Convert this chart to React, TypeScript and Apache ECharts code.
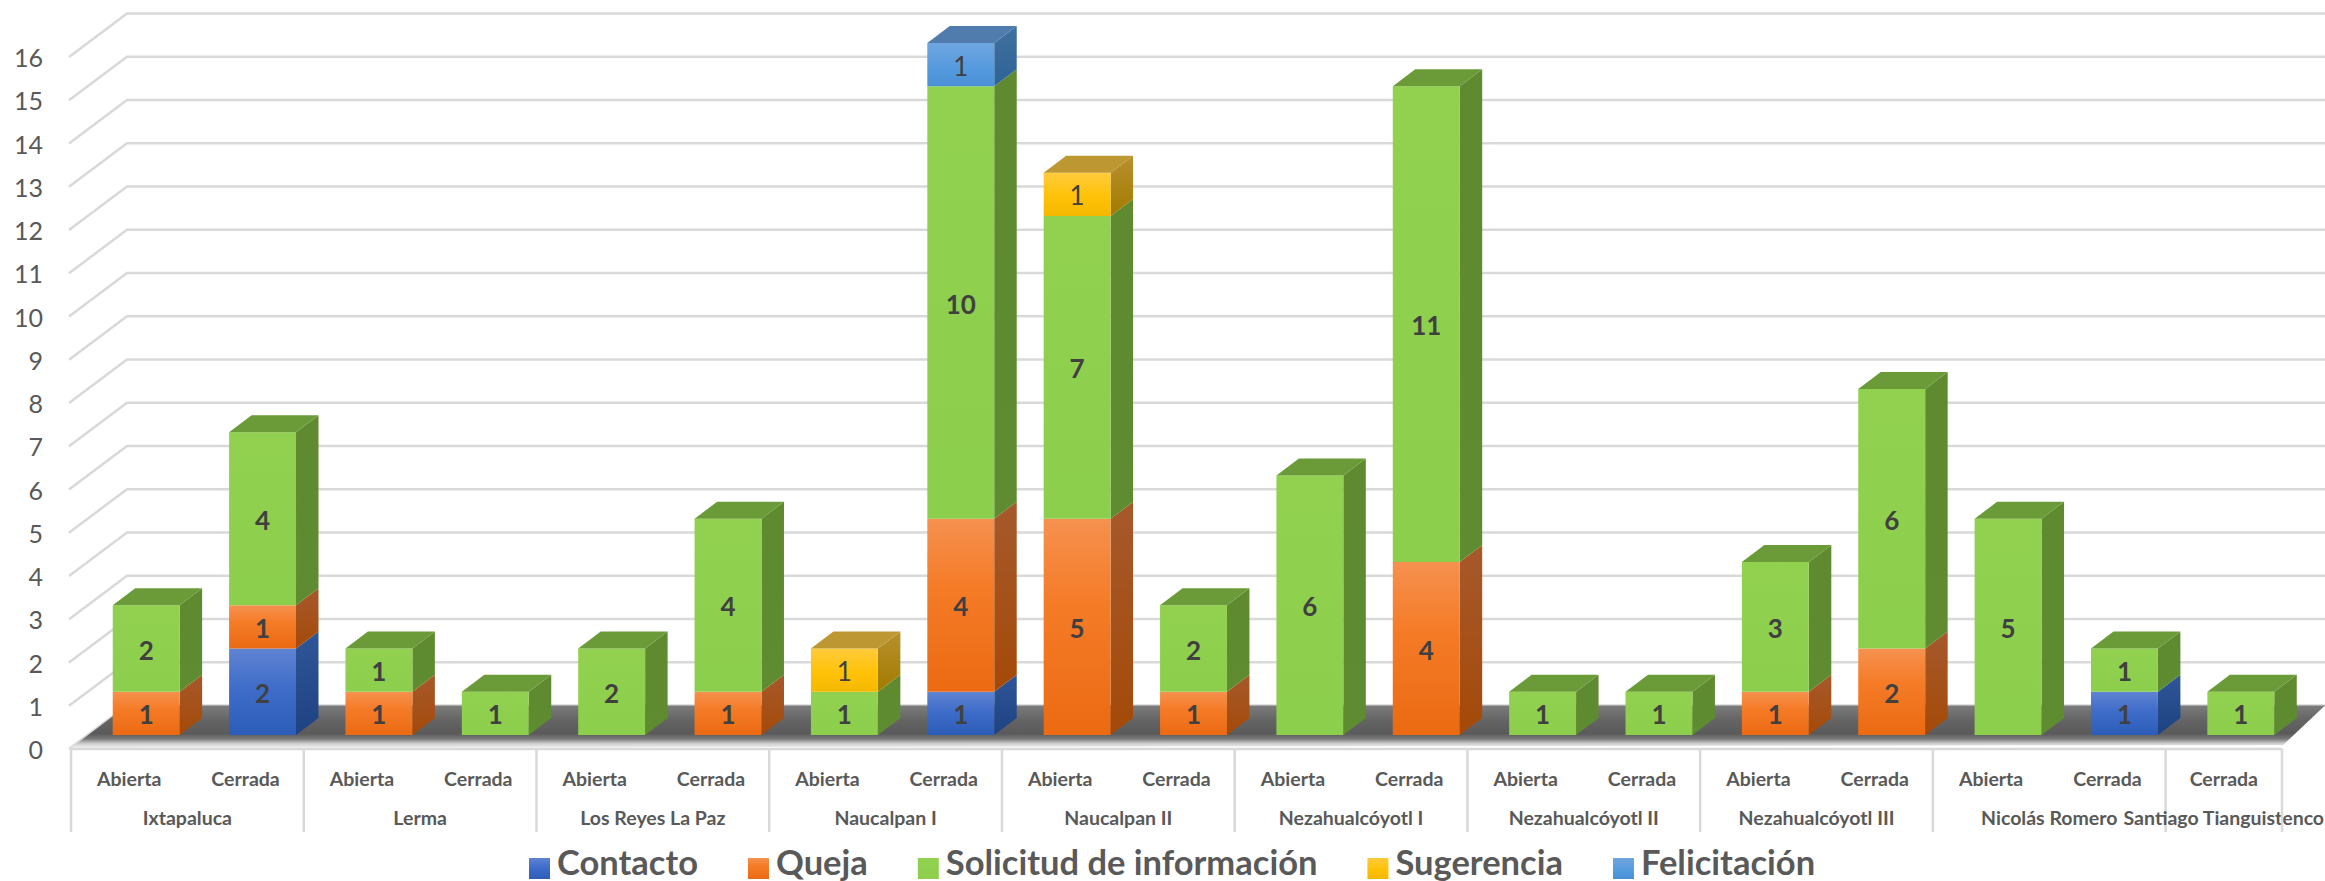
import React, { useEffect, useRef } from "react";
import * as echarts from "echarts";

const WIDTH = 2325;
const HEIGHT = 881;

const barLabels = [
  "Abierta", "Cerrada", "Abierta", "Cerrada", "Abierta", "Cerrada", "Abierta", "Cerrada",
  "Abierta", "Cerrada", "Abierta", "Cerrada", "Abierta", "Cerrada", "Abierta", "Cerrada",
  "Abierta", "Cerrada", "Cerrada",
];
const groupNames = [
  "Ixtapaluca", "Lerma", "Los Reyes La Paz", "Naucalpan I", "Naucalpan II",
  "Nezahualcóyotl I", "Nezahualcóyotl II", "Nezahualcóyotl III", "Nicolás Romero", "Santiago Tianguistenco",
];
const groupSizes = [2, 2, 2, 2, 2, 2, 2, 2, 2, 1];

const contacto =   [0, 2, 0, 0, 0, 0, 0, 1, 0, 0, 0, 0, 0, 0, 0, 0, 0, 1, 0];
const queja =      [1, 1, 1, 0, 0, 1, 0, 4, 5, 1, 0, 4, 0, 0, 1, 2, 0, 0, 0];
const solicitud =  [2, 4, 1, 1, 2, 4, 1, 10, 7, 2, 6, 11, 1, 1, 3, 6, 5, 1, 1];
const sugerencia = [0, 0, 0, 0, 0, 0, 1, 0, 1, 0, 0, 0, 0, 0, 0, 0, 0, 0, 0];
const felicitacion = [0, 0, 0, 0, 0, 0, 0, 1, 0, 0, 0, 0, 0, 0, 0, 0, 0, 0, 0];

const yTicks = [0, 1, 2, 3, 4, 5, 6, 7, 8, 9, 10, 11, 12, 13, 14, 15, 16];

const FONT = "Lato, Carlito, Calibri, sans-serif";
const LinearGradient = (echarts as any).graphic.LinearGradient;
const vg = (stops: any[]) =>
  new LinearGradient(0, 0, 0, 1, stops.map(([offset, color]: any) => ({ offset, color })));

const seriesDefs = [
  { name: "Contacto", values: contacto, weight: "bold",
    front: [[0, "#5F83D2"], [0.45, "#3F6DC9"], [1, "#2B5DB8"]], side: [[0, "#2F5697"], [1, "#1E4282"]], top: "#34588F" },
  { name: "Queja", values: queja, weight: "bold",
    front: [[0, "#F5914F"], [0.4, "#F57B27"], [1, "#EB6A12"]], side: [[0, "#A6592C"], [1, "#A44A08"]], top: "#A6592C" },
  { name: "Solicitud de información", values: solicitud, weight: "bold",
    front: [[0, "#91D14F"], [1, "#8CCF4D"]], side: [[0, "#5F8A30"], [1, "#5F8C30"]], top: "#6B9B38" },
  { name: "Sugerencia", values: sugerencia, weight: "normal",
    front: [[0, "#FFCB3D"], [0.55, "#FFC208"], [1, "#F5B800"]], side: [[0, "#B8902E"], [1, "#A27B00"]], top: "#BD9731" },
  { name: "Felicitación", values: felicitacion, weight: "normal",
    front: [[0, "#6FA5E0"], [0.6, "#549ADE"], [1, "#4A90D6"]], side: [[0, "#40709F"], [1, "#2F6396"]], top: "#4F7CAD" },
];

// 3D projection, in pixels, of the chart's depth
const WALL_DX = 56;
const WALL_DY = 43.5;
const BAR_SHIFT_X = 17;
const BAR_SHIFT_Y = -14;
const BAR_DX = 22.5;
const BAR_DY = 17;
const BAR_RATIO = 0.575;

// Legend swatch: a 21px square that sits low in a 23x35 box, so it lines up with the text as in the reference
const LEGEND_ICON = "path://M0 0L0 0ZM0 14L21 14L21 35L0 35ZM23 35L23 35Z";
const LEGEND_SWATCH_START = 14 / 35;

const stackBase = (i: number, upTo: number) => {
  let s = 0;
  for (let k = 0; k < upTo; k++) s += seriesDefs[k].values[i];
  return s;
};
const stackHasAbove = (i: number, idx: number) => {
  for (let k = idx + 1; k < seriesDefs.length; k++) if (seriesDefs[k].values[i] > 0) return true;
  return false;
};

function barSeries(def: any, idx: number) {
  const data = def.values.map((v: number, i: number) => [i, stackBase(i, idx), v]);
  return {
    type: "custom",
    name: def.name,
    z: 5,
    itemStyle: { color: vg(def.front) },
    encode: { x: 0, y: 1 },
    data,
    renderItem: (_: any, api: any) => {
      const i = api.value(0);
      const base = api.value(1);
      const v = api.value(2);
      if (!v) return null;
      const bw = api.size([1, 0])[0] * BAR_RATIO;
      const cx = api.coord([i, 0])[0] + BAR_SHIFT_X;
      const yb = api.coord([i, base])[1] + BAR_SHIFT_Y;
      const yt = api.coord([i, base + v])[1] + BAR_SHIFT_Y;
      const xl = cx - bw / 2;
      const xr = cx + bw / 2;
      const children: any[] = [
        {
          type: "polygon",
          shape: { points: [[xr, yb], [xr + BAR_DX, yb - BAR_DY], [xr + BAR_DX, yt - BAR_DY], [xr, yt]] },
          style: { fill: vg(def.side) },
        },
        {
          type: "rect",
          shape: { x: xl, y: yt, width: bw, height: yb - yt },
          style: { fill: vg(def.front) },
        },
      ];
      if (!stackHasAbove(i, idx)) {
        children.push({
          type: "polygon",
          shape: { points: [[xl, yt], [xl + BAR_DX, yt - BAR_DY], [xr + BAR_DX, yt - BAR_DY], [xr, yt]] },
          style: { fill: def.top },
        });
      }
      children.push({
        type: "text",
        x: cx,
        y: (yt + yb) / 2 + 1,
        style: {
          text: String(v),
          fill: "#404040",
          fontFamily: FONT,
          fontSize: 26,
          fontWeight: def.weight,
          align: "center",
          verticalAlign: "middle",
        },
      });
      return { type: "group", children };
    },
  };
}

const wallSeries = {
  type: "custom",
  z: 1,
  silent: true,
  encode: { y: 1 },
  data: yTicks.map((t) => [0, t]),
  renderItem: (params: any, api: any) => {
    const y = api.coord([0, api.value(1)])[1];
    const x0 = params.coordSys.x;
    return {
      type: "polyline",
      shape: { points: [[x0 - 2, y], [x0 + WALL_DX, y - WALL_DY], [api.getWidth(), y - WALL_DY]] },
      style: { stroke: "#D9D9D9", lineWidth: 2.5, fill: "none" },
    };
  },
};

const floorSeries = {
  type: "custom",
  z: 2,
  silent: true,
  encode: { y: 1 },
  data: [[0, 0]],
  renderItem: (params: any, api: any) => {
    const y = api.coord([0, 0])[1];
    const x0 = params.coordSys.x;
    const x1 = x0 + params.coordSys.width;
    return {
      type: "polygon",
      shape: {
        points: [
          [x0, y - 1],
          [x0 + WALL_DX, y - WALL_DY],
          [api.getWidth(), y - WALL_DY],
          [x1 + 1, y - 4],
        ],
      },
      style: {
        fill: vg([[0, "#7C7C7C"], [0.35, "#646464"], [0.66, "#5A5A5A"], [0.78, "#777777"], [0.9, "#D0D0D0"], [1, "#F2F2F2"]]),
      },
    };
  },
};

const TABLE_BOTTOM = 83; // px below the axis line
const tableSeries = {
  type: "custom",
  z: 3,
  silent: true,
  encode: { y: 1 },
  data: groupSizes.map((size, g) => [g, size]),
  renderItem: (_: any, api: any) => {
    const g = api.value(0);
    const size = api.value(1);
    let start = 0;
    for (let k = 0; k < g; k++) start += groupSizes[k];
    const band = api.size([1, 0])[0];
    const y0 = api.coord([0, 0])[1];
    const xl = api.coord([start, 0])[0] - band / 2;
    const xr = xl + band * size;
    const children: any[] = [
      { type: "line", shape: { x1: xl, y1: y0, x2: xr, y2: y0 }, style: { stroke: "#D9D9D9", lineWidth: 2.5 } },
      { type: "line", shape: { x1: xl, y1: y0, x2: xl, y2: y0 + TABLE_BOTTOM }, style: { stroke: "#D9D9D9", lineWidth: 2.5 } },
      {
        type: "text",
        x: (xl + xr) / 2,
        y: y0 + 68,
        style: {
          text: groupNames[g],
          fill: "#595959",
          fontFamily: FONT,
          fontSize: 19.5,
          fontWeight: "bold",
          align: "center",
          verticalAlign: "middle",
        },
      },
    ];
    if (g === groupSizes.length - 1) {
      children.push({ type: "line", shape: { x1: xr, y1: y0, x2: xr, y2: y0 + TABLE_BOTTOM }, style: { stroke: "#D9D9D9", lineWidth: 2.5 } });
    }
    return { type: "group", children };
  },
};

export default function App() {
  const ref = useRef<HTMLDivElement>(null);
  useEffect(() => {
    document.body.style.margin = "0";
    document.body.style.overflow = "hidden";
    const chart = echarts.init(ref.current!, undefined, { renderer: "svg" });
    chart.setOption({
      animation: false,
      backgroundColor: "#FFFFFF",
      grid: { left: 71, top: 57, width: 2211, height: 692 },
      xAxis: {
        type: "category",
        data: barLabels,
        axisLine: { show: false },
        axisTick: { show: false },
        splitLine: { show: false },
        axisLabel: {
          interval: 0,
          margin: 19,
          color: "#595959",
          fontFamily: FONT,
          fontSize: 19.5,
          fontWeight: "bold",
          hideOverlap: false,
        },
      },
      yAxis: {
        type: "value",
        min: 0,
        max: 16,
        interval: 1,
        axisLine: { show: false },
        axisTick: { show: false },
        splitLine: { show: false },
        axisLabel: { margin: 28, color: "#595959", fontFamily: FONT, fontSize: 25 },
      },
      legend: {
        left: 524,
        top: 839,
        itemWidth: 23,
        itemHeight: 35,
        itemGap: 50,
        icon: LEGEND_ICON,
        selectedMode: false,
        textStyle: { color: "#595959", fontFamily: FONT, fontSize: 34.5, fontWeight: "bold" },
        data: seriesDefs.map((d) => ({
          name: d.name,
          icon: LEGEND_ICON,
          itemStyle: {
            color: vg(d.front.map(([o, c]: any) => [LEGEND_SWATCH_START + (1 - LEGEND_SWATCH_START) * o, c])),
          },
        })),
      },
      series: [wallSeries, floorSeries, tableSeries, ...seriesDefs.map(barSeries)],
    });
    return () => chart.dispose();
  }, []);
  return <div ref={ref} style={{ width: WIDTH, height: HEIGHT, position: "absolute", left: 0, top: 0 }} />;
}
